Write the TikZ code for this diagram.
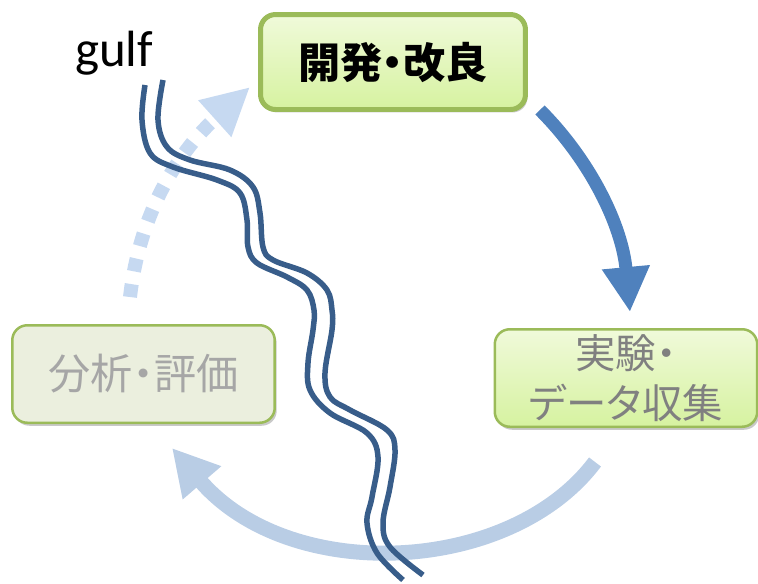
\documentclass[tikz,border=0pt]{standalone}
\usepackage{fontspec}
\setmainfont{Carlito}
\newfontfamily\jp[RawFeature=+palt]{Noto Sans CJK JP}
\usepackage{tikz}
\usetikzlibrary{arrows.meta,shadows}
\definecolor{leaf}{RGB}{155, 187, 89}
\definecolor{leaftop}{RGB}{240, 250, 218}
\definecolor{leafbot}{RGB}{214, 242, 160}
\definecolor{sage}{RGB}{235, 239, 222}
\definecolor{cycleblue}{RGB}{79, 129, 189}
\definecolor{arcblue}{RGB}{185, 205, 229}
\definecolor{dotblue}{RGB}{198, 217, 241}
\definecolor{gulfblue}{RGB}{56, 93, 138}
\tikzstyle{stage}=[rectangle, rounded corners=0.3cm, draw=leaf, line width=0.05cm, inner sep=0pt, minimum width=5.25cm, minimum height=1.95cm, align=center, drop shadow={shadow xshift=0.04cm, shadow yshift=-0.06cm, opacity=0.3, fill=black!70}]
\tikzstyle{current}=[stage, line width=0.1cm, minimum width=5.3cm, minimum height=1.9cm, top color=leaftop, bottom color=leafbot, text=black]
\tikzstyle{wave}=[draw=gulfblue, line width=0.11cm]

\begin{document}
\begin{tikzpicture}[x=0.02cm, y=-0.02cm]
      %
      \path[use as bounding box] (0,0) rectangle (758,583);
      %
      % Stages of the cycle
      %
      \node[current, font=\jp\bfseries\fontsize{24}{30}\selectfont] (improve) at (393,62) {開発・改良};
      \node[stage, top color=leaftop, bottom color=leafbot, text=black!50, font=\jp\fontsize{23}{28.5}\selectfont]
        (experiment) at (626,378) {実験・\\データ収集};
      \node[stage, fill=sage, text=black!35, font=\jp\fontsize{24}{30}\selectfont] (evaluate) at (143.5,374) {分析・評価};
      \node[font=\fontsize{29}{32}\selectfont] (gulf) at (114,53) {gulf};
      %
      % 開発・改良 --> 実験・データ収集
      %
      \path [draw, cycleblue, line width=0.26cm, -{Triangle[width=0.9cm, length=0.9cm]}]
        ([xshift=0.24cm, yshift=0.04cm]improve.south east) .. controls (590,160) and (622,225) .. ([xshift=0.08cm, yshift=0.32cm]experiment.north);
      %
      % 実験・データ収集 --> 分析・評価
      %
      \path [draw, arcblue, line width=0.3cm, -{Triangle[width=0.95cm, length=0.92cm]}]
        ([xshift=-0.62cm, yshift=-0.68cm]experiment.south) .. controls (510,575) and (290,585) .. ([xshift=0.57cm, yshift=-0.48cm]evaluate.south);
      %
      % 分析・評価 --> 開発・改良
      %
      \path [draw, dotblue, line width=0.28cm, dash pattern=on 0.26cm off 0.26cm, -{Triangle[width=0.92cm, length=0.95cm]}]
        ([xshift=-0.27cm, yshift=0.54cm]evaluate.north) .. controls (140,210) and (180,150) .. ([xshift=-0.16cm, yshift=0.5cm]improve.south west);
      %
      % the gulf
      %
      \draw[wave] plot[smooth, tension=0.6] coordinates {(145,85) (142,120) (150,153) (173,167) (217,180) (240,193) (247,220) (248,247) (257,263) (287,277) (307,290) (314,310) (313,330) (308,363) (310,390) (330,413) (367,433) (378,457) (372,497) (367,523) (377,553) (403,580)};
      \draw[wave] plot[smooth, tension=0.6] coordinates {(163,80) (158,120) (167,147) (190,160) (230,170) (253,187) (260,213) (263,247) (273,260) (307,273) (327,290) (332,310) (332,330) (325,373) (330,397) (350,410) (387,430) (395,450) (390,487) (383,523) (390,547) (423,575)};
      %
\end{tikzpicture}
\end{document}
